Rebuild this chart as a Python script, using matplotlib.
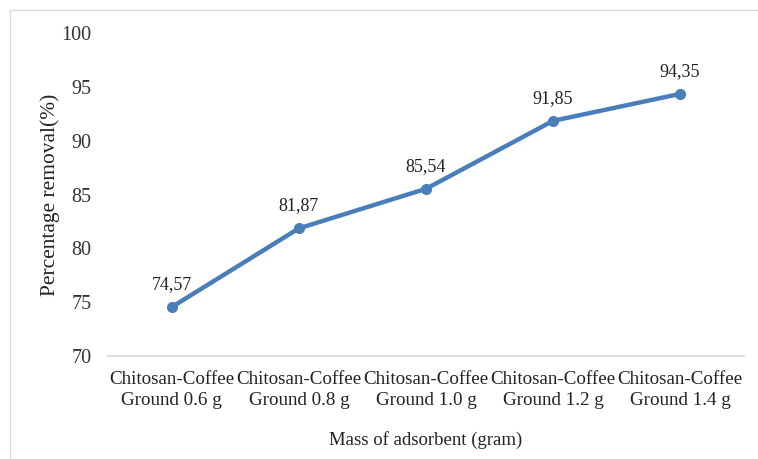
import matplotlib.pyplot as plt
from matplotlib.patches import Rectangle

categories = ['Chitosan-Coffee\nGround 0.6 g', 'Chitosan-Coffee\nGround 0.8 g',
              'Chitosan-Coffee\nGround 1.0 g', 'Chitosan-Coffee\nGround 1.2 g',
              'Chitosan-Coffee\nGround 1.4 g']
removal = [74.57, 81.87, 85.54, 91.85, 94.35]
removal_labels = ['74,57', '81,87', '85,54', '91,85', '94,35']
y_ticks = [70, 75, 80, 85, 90, 95, 100]

plt.rcParams['font.family'] = ['Liberation Serif', 'DejaVu Serif']

fig = plt.figure(figsize=(7.58, 4.59), dpi=100, facecolor='white')
ax = fig.add_axes([0.143, 0.224, 0.838, 0.704])

x = range(len(categories))
ax.plot(x, removal, color='#4A7EBB', lw=3.2, marker='o', ms=7, solid_capstyle='round')
for xi, yi, lab in zip(x, removal, removal_labels):
    ax.annotate(lab, (xi, yi), xytext=(0, 10), textcoords='offset points',
                ha='center', va='bottom', fontsize=13, color='#222222')

ax.set_xlim(-0.5, len(categories) - 0.5)
ax.set_ylim(70, 100)
ax.set_yticks(y_ticks)
ax.set_xticks(list(x))
ax.set_xticklabels(categories, fontsize=13.7, color='#222222', linespacing=1.25)
ax.tick_params(axis='y', labelsize=14.5, labelcolor='#333333', length=0, pad=12)
ax.tick_params(axis='x', length=0, pad=11)

for s in ['top', 'right', 'left']:
    ax.spines[s].set_visible(False)
ax.spines['bottom'].set_color('#D9D9D9')
ax.spines['bottom'].set_linewidth(1.2)

ax.set_ylabel('Percentage removal(%)', fontsize=15.4, color='#222222', labelpad=1)
ax.set_xlabel('Mass of adsorbent (gram)', fontsize=13.5, color='#222222', labelpad=16)

fig.patches.append(Rectangle((10 / 758, -0.1), 1.2, 1.1 - 10 / 459, transform=fig.transFigure,
                             fill=False, edgecolor='#D9D9D9', lw=1))

fig.savefig('out.png', dpi=100, facecolor='white')
